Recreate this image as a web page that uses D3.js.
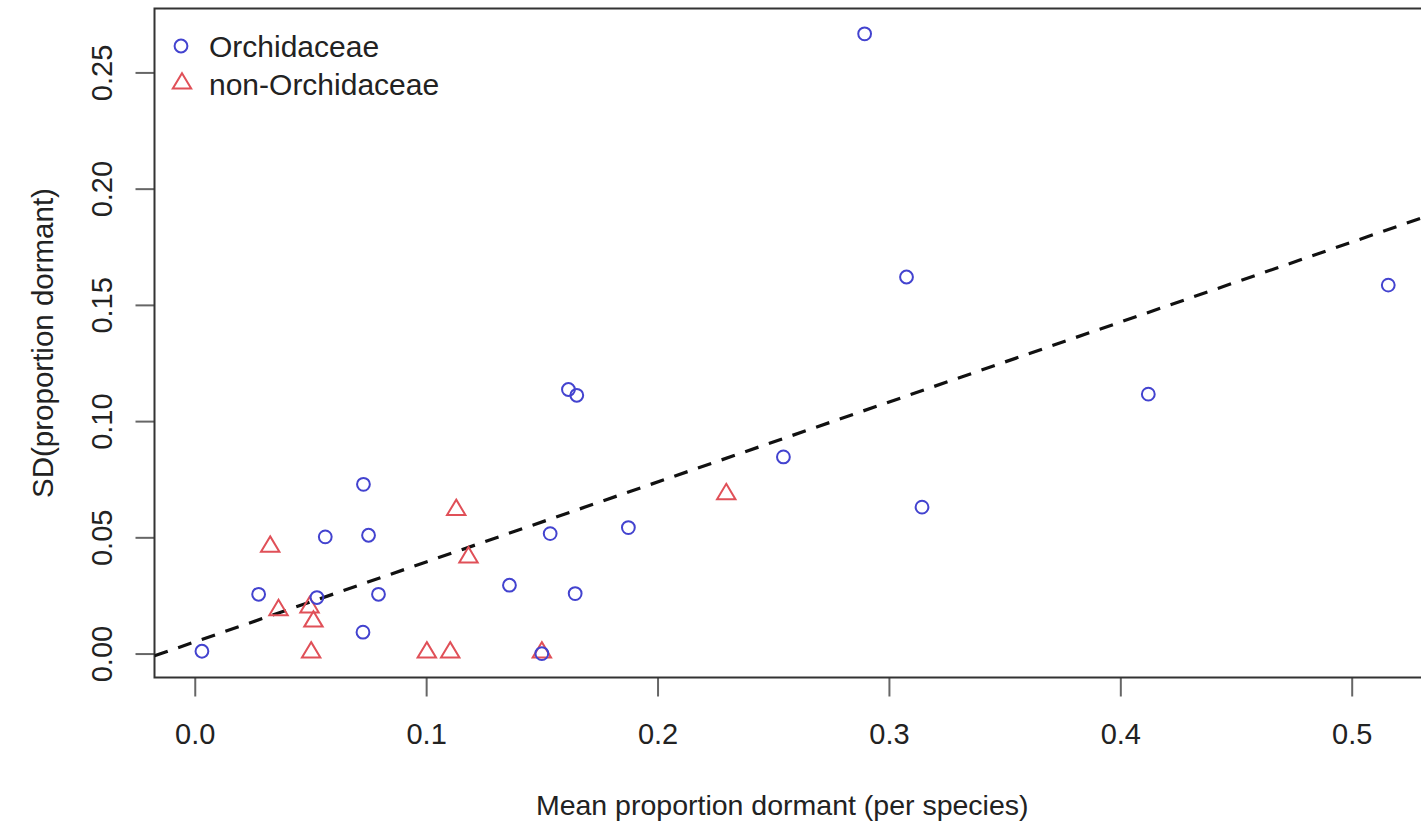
<!DOCTYPE html>
<html>
<head>
<meta charset="utf-8">
<script src="https://cdn.jsdelivr.net/npm/d3@7"></script>
<style>
  html, body { margin: 0; padding: 0; background: #fff; }
  svg { display: block; font-family: "Liberation Sans", Arial, sans-serif; }
</style>
</head>
<body>
<svg id="chart" width="1421" height="828"></svg>
<script>
// ---- data ----
const orchidX = [0.0031, 0.0276, 0.0528, 0.0564, 0.0729, 0.0751, 0.0727, 0.0794, 0.1360, 0.1536, 0.1500, 0.1615, 0.1651, 0.1644, 0.1874, 0.2544, 0.2895, 0.3076, 0.3143, 0.4121, 0.5158];
const orchidY = [0.0010, 0.0255, 0.0241, 0.0502, 0.0728, 0.0509, 0.0092, 0.0255, 0.0294, 0.0516, 0.0000, 0.1136, 0.1111, 0.0258, 0.0542, 0.0846, 0.2666, 0.1620, 0.0630, 0.1116, 0.1585];
const nonOrchidX = [0.0326, 0.0362, 0.0496, 0.0513, 0.0503, 0.1003, 0.1104, 0.1130, 0.1183, 0.1500, 0.2297];
const nonOrchidY = [0.0462, 0.0189, 0.0201, 0.0140, 0.0007, 0.0007, 0.0007, 0.0620, 0.0416, 0.0007, 0.0688];
const fitIntercept = 0.0050;
const fitSlope = 0.3440;
const xTicks = [0.0, 0.1, 0.2, 0.3, 0.4, 0.5];
const yTicks = [0.00, 0.05, 0.10, 0.15, 0.20, 0.25];
const legendLabels = ["Orchidaceae", "non-Orchidaceae"];
const xTitle = "Mean proportion dormant (per species)";
const yTitle = "SD(proportion dormant)";

// ---- layout ----
const svg = d3.select("#chart");
const box = {left: 154.5, right: 1435, top: 8.5, bottom: 677.5};
const x = d3.scaleLinear().domain([-0.0174, 0.536]).range([box.left, box.right]);
const y = d3.scaleLinear().domain([-0.0103, 0.2775]).range([box.bottom, box.top]);
const blue = "#4343cf";
const red = "#e05058";
const tickFont = 29;
const legendFont = 30;

// clip
svg.append("defs").append("clipPath").attr("id", "plotclip")
  .append("rect").attr("x", box.left).attr("y", box.top)
  .attr("width", box.right - box.left).attr("height", box.bottom - box.top);

// x axis
const xAxis = d3.axisBottom(x).tickValues(xTicks).tickSize(19).tickPadding(28)
  .tickFormat(d3.format(".1f"));
const gx = svg.append("g").attr("transform", `translate(0,${box.bottom})`).call(xAxis);
gx.select(".domain").remove();
gx.selectAll(".tick line").attr("stroke", "#666").attr("stroke-width", 2);
gx.selectAll(".tick text").attr("font-size", tickFont).attr("fill", "#222")
  .attr("font-family", "Liberation Sans, Arial, sans-serif").attr("dy", "0").attr("y", 66);

// y axis
const yAxis = d3.axisLeft(y).tickValues(yTicks).tickSize(19).tickFormat(d3.format(".2f"));
const gy = svg.append("g").attr("transform", `translate(${box.left},0)`).call(yAxis);
gy.select(".domain").remove();
gy.selectAll(".tick line").attr("stroke", "#666").attr("stroke-width", 2);
gy.selectAll(".tick text").attr("font-size", tickFont).attr("fill", "#222")
  .attr("font-family", "Liberation Sans, Arial, sans-serif")
  .attr("x", null).attr("dy", null)
  .attr("text-anchor", "middle")
  .attr("transform", "translate(-43,0) rotate(-90)");

// box
svg.append("rect").attr("x", box.left).attr("y", box.top)
  .attr("width", box.right - box.left).attr("height", box.bottom - box.top)
  .attr("fill", "none").attr("stroke", "#333").attr("stroke-width", 2);

const plot = svg.append("g").attr("clip-path", "url(#plotclip)");

// regression line
const xd = x.domain();
plot.append("line")
  .attr("x1", x(xd[0])).attr("y1", y(fitIntercept + fitSlope * xd[0]))
  .attr("x2", x(xd[1])).attr("y2", y(fitIntercept + fitSlope * xd[1]))
  .attr("stroke", "#111").attr("stroke-width", 3.2)
  .attr("stroke-dasharray", "14,11");

// points
const orchids = orchidX.map((v, i) => ({x: v, y: orchidY[i]}));
const nonOrchids = nonOrchidX.map((v, i) => ({x: v, y: nonOrchidY[i]}));
const triPath = "M0,-9.8L9.2,5.6L-9.2,5.6Z";

plot.selectAll("path.tri").data(nonOrchids).enter().append("path")
  .attr("class", "tri").attr("d", triPath)
  .attr("transform", d => `translate(${x(d.x)},${y(d.y)})`)
  .attr("fill", "none").attr("stroke", red).attr("stroke-width", 2);

plot.selectAll("circle.orc").data(orchids).enter().append("circle")
  .attr("class", "orc").attr("cx", d => x(d.x)).attr("cy", d => y(d.y)).attr("r", 6.4)
  .attr("fill", "none").attr("stroke", blue).attr("stroke-width", 2);

// legend
const lg = svg.append("g");
lg.append("circle").attr("cx", 181).attr("cy", 46).attr("r", 6.4)
  .attr("fill", "none").attr("stroke", blue).attr("stroke-width", 2);
lg.append("path").attr("d", triPath).attr("transform", "translate(182,83)")
  .attr("fill", "none").attr("stroke", red).attr("stroke-width", 2);
lg.selectAll("text").data(legendLabels).enter().append("text")
  .attr("x", 209).attr("y", (d, i) => 57 + i * 38)
  .attr("font-size", legendFont).attr("fill", "#222").text(d => d);

// axis titles
svg.append("text").attr("x", (x(0) + x(0.5)) / 2 + 9).attr("y", 815)
  .attr("text-anchor", "middle").attr("font-size", 28.5).attr("fill", "#222").text(xTitle);
svg.append("text").attr("transform", `translate(53,${(box.top + box.bottom) / 2}) rotate(-90)`)
  .attr("text-anchor", "middle").attr("font-size", 29.5).attr("fill", "#222").text(yTitle);
</script>
</body>
</html>
